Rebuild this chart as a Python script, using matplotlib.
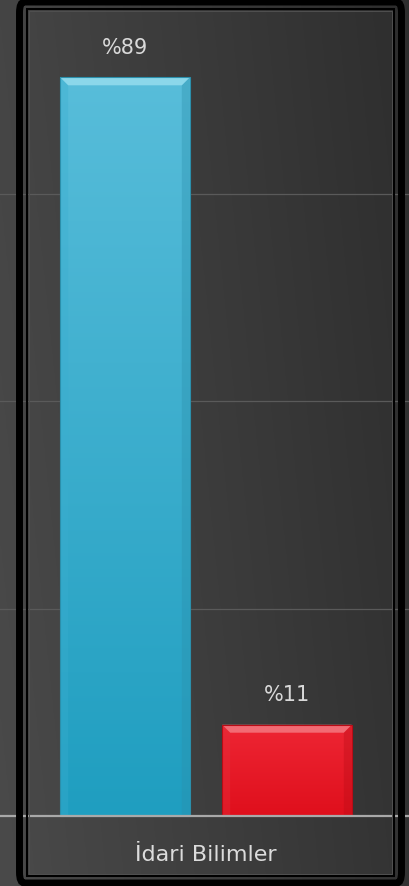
import numpy as np
import matplotlib
matplotlib.use("Agg")
import matplotlib.pyplot as plt
from matplotlib.patches import Rectangle, Polygon, FancyBboxPatch
from matplotlib.colors import LinearSegmentedColormap

# data
category = "İdari Bilimler"
series_names = ["Evet", "Hayır"]
values = [89, 11]
labels = ["%89", "%11"]
grid_ticks = [0, 25, 50, 75]

W, H, DPI = 410, 887, 100
fig = plt.figure(figsize=(W / DPI, H / DPI), dpi=DPI)

# background gradient (lighter on left, darker to the right)
bg = fig.add_axes([0, 0, 1, 1], zorder=0)
gx = np.linspace(0, 1, 200)
gy = np.linspace(0, 1, 200)
GX, GY = np.meshgrid(gx, gy)
shade = 0.27 - 0.09 * GX + 0.02 * GY
bg.imshow(np.dstack([shade, shade, shade]), extent=[0, 1, 0, 1], aspect="auto", origin="upper")
bg.axis("off")

ax = fig.add_axes([0, 0, 1, 1], zorder=1)
ax.patch.set_alpha(0)
px_per_unit_y = 8.3
ax.set_ylim(-70 / px_per_unit_y, 817 / px_per_unit_y)
ax.set_xlim(-125 / 162, (W - 125) / 162)
for s in ax.spines.values():
    s.set_visible(False)
ax.set_xticks([])
ax.set_yticks([])

for t in grid_ticks[1:]:
    ax.axhline(t, color="#5a5a5a", lw=0.9, zorder=1)
ax.axhline(0, color="#a9a9a9", lw=1.6, zorder=4)

xpos = [0, 1]
width = 0.80
tops = ["#58bdda", "#ee2634"]
bottoms = ["#1f9ec0", "#df0f1c"]
bevel_top = ["#95dcee", "#f47880"]
bevel_side = ["#3aaed0", "#e4303c"]
edge = ["#2b8fab", "#b80c16"]

bars = ax.bar(xpos, values, width=width, color="none", zorder=3)
dx = 8 / 162
dy = 8 / px_per_unit_y
for i, b in enumerate(bars):
    x0, y0 = b.get_x(), b.get_y()
    x1, y1 = x0 + b.get_width(), y0 + b.get_height()
    cmap = LinearSegmentedColormap.from_list("g", [bottoms[i], tops[i]])
    img = ax.imshow(np.linspace(0, 1, 256).reshape(-1, 1), cmap=cmap, origin="lower",
                    extent=[x0, x1, y0, y1], aspect="auto", zorder=3)
    img.set_clip_path(b)
    # bevel
    ax.add_patch(Polygon([[x0, y1], [x1, y1], [x1 - dx, y1 - dy], [x0 + dx, y1 - dy]],
                         closed=True, fc=bevel_top[i], ec="none", alpha=0.85, zorder=3.2))
    ax.add_patch(Polygon([[x0, y1], [x0 + dx, y1 - dy], [x0 + dx, y0], [x0, y0]],
                         closed=True, fc=bevel_side[i], ec="none", alpha=0.35, zorder=3.1))
    ax.add_patch(Polygon([[x1, y1], [x1 - dx, y1 - dy], [x1 - dx, y0], [x1, y0]],
                         closed=True, fc=edge[i], ec="none", alpha=0.35, zorder=3.1))
    ax.add_patch(Rectangle((x0, y0), x1 - x0, y1 - y0, fc="none", ec=edge[i], lw=0.8, zorder=3.3))
    ax.annotate(labels[i], (b.get_x() + b.get_width() / 2, y1), xytext=(0, 22),
                textcoords="offset points", ha="center", va="center",
                color="#d9d9d9", fontsize=15, zorder=5)

ax.text(0.5, -38 / px_per_unit_y, category, ha="center", va="center",
        color="#dcdcdc", fontsize=16, zorder=5)

# frames
fig.patches.append(FancyBboxPatch((19.5 / W, 3 / H), (401.5 - 19.5) / W, (884 - 3) / H,
                                  boxstyle="round,pad=0,rounding_size=0.012",
                                  transform=fig.transFigure, fc="none", ec="black", lw=5, zorder=10))
fig.patches.append(Rectangle((27.5 / W, 10 / H), (394 - 27.5) / W, (877 - 10) / H,
                             transform=fig.transFigure, fc="none", ec="black", lw=1.5, zorder=10))
fig.patches.append(Rectangle((29.5 / W, 12 / H), (392 - 29.5) / W, (875 - 12) / H,
                             transform=fig.transFigure, fc="none", ec="#505050", lw=0.7, zorder=10))

fig.savefig("out.png", dpi=DPI)
